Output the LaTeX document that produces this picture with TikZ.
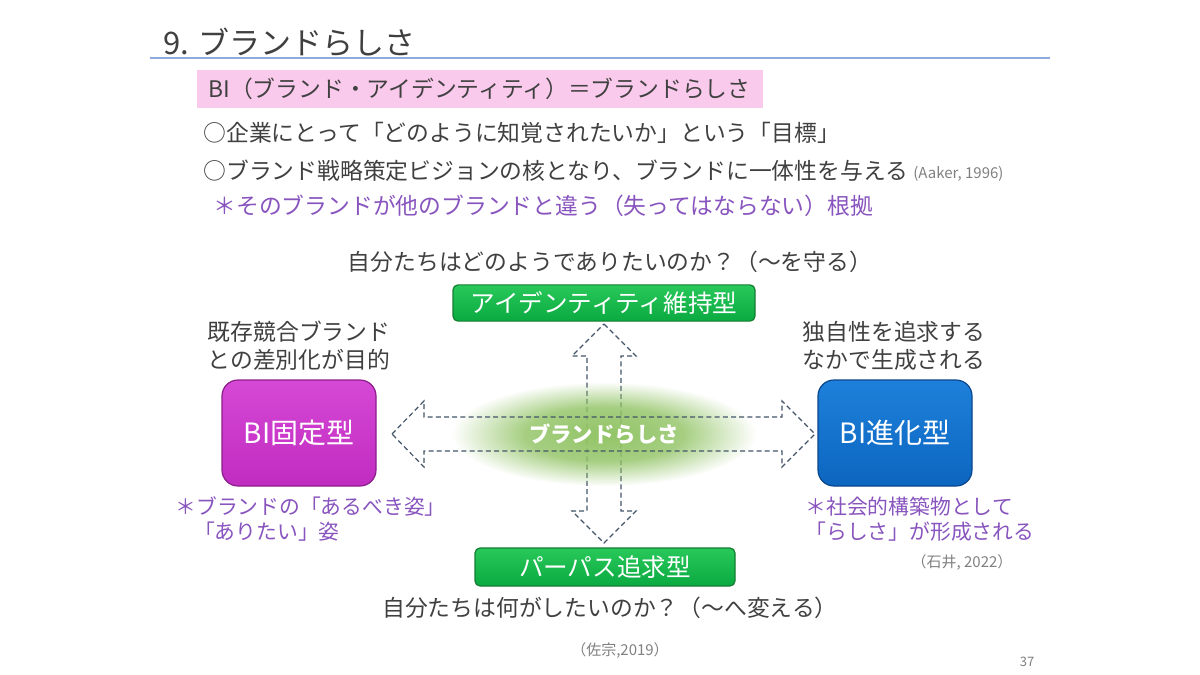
\documentclass[tikz,border=0pt]{standalone}
\usepackage{fontspec}
\setmainfont{Noto Sans CJK JP}
\usetikzlibrary{positioning,fadings}

\definecolor{inkgray}{RGB}{64,64,64}
\definecolor{citegray}{RGB}{128,128,128}
\definecolor{rulecolor}{RGB}{143,170,220}
\definecolor{pinkfill}{RGB}{250,202,236}
\definecolor{notepurple}{RGB}{136,84,190}
\definecolor{greentop}{RGB}{40,200,90}
\definecolor{greenbot}{RGB}{10,170,65}
\definecolor{greenline}{RGB}{20,125,50}
\definecolor{magtop}{RGB}{214,72,214}
\definecolor{magbot}{RGB}{192,44,192}
\definecolor{magline}{RGB}{140,30,140}
\definecolor{bluetop}{RGB}{30,128,218}
\definecolor{bluebot}{RGB}{12,102,192}
\definecolor{blueline}{RGB}{10,70,140}
\definecolor{glowgreen}{RGB}{146,196,102}
\definecolor{arrowgray}{RGB}{68,84,106}

\pgfdeclareradialshading{glowshade}{\pgfpointorigin}{color(0bp)=(white); color(13bp)=(white!82!black); color(25bp)=(black); color(50bp)=(black)}
\pgfdeclarefading{glowfade}{\pgfuseshading{glowshade}}

\tikzset{
  body/.style={font=\fontsize{11.4}{14}\selectfont, text=inkgray, inner sep=0pt},
  note/.style={font=\fontsize{11.2}{12.5}\selectfont, text=notepurple, inner sep=0pt, align=left},
  cite/.style={font=\fontsize{7.5}{9}\selectfont, text=citegray, inner sep=0pt},
  greenbox/.style={draw=greenline, line width=0.6pt, top color=greentop, bottom color=greenbot,
    rounded corners=2.5pt, text=white, font=\fontsize{12.3}{14}\selectfont},
  typebox/.style={line width=0.6pt, rounded corners=8pt, text=white,
    minimum width=77pt, minimum height=53pt, font=\fontsize{14}{16}\selectfont},
  dasharrow/.style={draw=arrowgray, line width=0.6pt, dash pattern=on 2.5pt off 1.6pt}
}

\begin{document}
\begin{tikzpicture}[x=0.5pt,y=-0.5pt]
  \useasboundingbox (0,0) rectangle (1200,675);

  % heading
  \node (title) [anchor=west, text=inkgray, font=\fontsize{15.5}{18}\selectfont, inner sep=0pt] at (163,42) {9. ブランドらしさ};
  \draw[rulecolor, line width=0.8pt] (150,58) -- (1050,58);

  \node (bibox) [anchor=west, fill=pinkfill, minimum width=283pt, minimum height=19pt, inner sep=0pt] at (197,89) {};
  \node (bitext) [body, anchor=west] at ([xshift=5.5pt]bibox.west) {BI（ブランド・アイデンティティ）＝ブランドらしさ};
  \node (goal) [body, anchor=west] at (203,133) {○企業にとって「どのように知覚されたいか」という「目標」};
  \node (core) [body, anchor=west] at (203,171) {○ブランド戦略策定ビジョンの核となり、ブランドに一体性を与える};
  \node (aaker) [cite, anchor=west] at (913,174) {(Aaker, 1996)};
  \node (basis) [note, font=\fontsize{11.4}{14}\selectfont, anchor=west] at (213,206) {＊そのブランドが他のブランドと違う（失ってはならない）根拠};

  % diagram
  \coordinate (hub) at (604,434);

  \begin{scope}[shift={(hub)}]
    \draw[dasharrow] (0,-110) -- (32,-78) -- (17,-78) -- (17,77) -- (32,77) -- (0,109)
      -- (-32,77) -- (-17,77) -- (-17,-78) -- (-32,-78) -- cycle;
  \end{scope}
  \fill[glowgreen, path fading=glowfade] (hub) ellipse (152 and 52);
  \begin{scope}[shift={(hub)}]
    \draw[dasharrow] (-212,0) -- (-180,-33) -- (-180,-17) -- (178,-17) -- (178,-33) -- (211,0)
      -- (178,33) -- (178,17) -- (-180,17) -- (-180,33) -- cycle;
  \end{scope}
  \node (glowtxt) [text=white, font=\bfseries\fontsize{10.7}{13}\selectfont] at (hub) {ブランドらしさ};

  \node (qtop) [body] at (610,262) {自分たちはどのようでありたいのか？（〜を守る）};
  \node (keep) [greenbox, minimum width=151pt, minimum height=18pt] at (604,303) {アイデンティティ維持型};

  \node (fixlabel) [body, align=left] at (299,346) {既存競合ブランド\\との差別化が目的};
  \node (evolabel) [body, align=left] at (894,346) {独自性を追求する\\なかで生成される};

  \node (fixed) [typebox, draw=magline, top color=magtop, bottom color=magbot] at (299,433) {BI固定型};
  \node (evolve) [typebox, draw=blueline, top color=bluetop, bottom color=bluebot] at (895,433) {BI進化型};

  \node (fixnote) [note, font=\fontsize{10.4}{12.5}\selectfont, anchor=west] at (175,519) {＊ブランドの「あるべき姿」\\\hspace*{0.9em}「ありたい」姿};
  \node (evonote) [note, font=\fontsize{10.4}{12.5}\selectfont, anchor=west] at (805,519) {＊社会的構築物として\\「らしさ」が形成される};
  \node (ishii) [cite] at (962,562) {（石井, 2022）};

  \node (purpose) [greenbox, minimum width=130pt, minimum height=19pt] at (605,567) {パーパス追求型};
  \node (qbot) [body] at (610,608) {自分たちは何がしたいのか？（〜へ変える）};
  \node (saso) [cite] at (620,650) {（佐宗,2019）};

  \node (page) [cite, font=\fontsize{6.5}{8}\selectfont] at (1027,662) {37};
\end{tikzpicture}
\end{document}
